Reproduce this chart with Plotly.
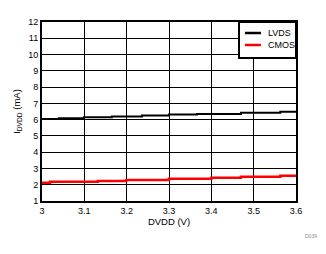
import plotly.graph_objects as go

# LVDS supply current (step readings), x = DVDD (V), y = I_DVDD (mA)
lvds_x = [3.0, 3.040, 3.099, 3.165, 3.236, 3.300, 3.366, 3.470, 3.563, 3.6]
lvds_y = [6.04, 6.08, 6.14, 6.20, 6.26, 6.31, 6.35, 6.43, 6.49, 6.49]

# CMOS supply current
cmos_x = [3.0, 3.019, 3.132, 3.199, 3.300, 3.400, 3.470, 3.563, 3.6]
cmos_y = [2.12, 2.18, 2.23, 2.29, 2.37, 2.43, 2.49, 2.55, 2.55]

series_names = ["LVDS", "CMOS"]
series_colors = ["black", "#ff0000"]

x_ticks = [3, 3.1, 3.2, 3.3, 3.4, 3.5, 3.6]
x_tick_labels = ["3", "3.1", "3.2", "3.3", "3.4", "3.5", "3.6"]
y_ticks = list(range(1, 13))

FONT = "Liberation Sans, Arial, sans-serif"

fig = go.Figure()
for xs, ys, name, color, w in [(lvds_x, lvds_y, series_names[0], series_colors[0], 2),
                                (cmos_x, cmos_y, series_names[1], series_colors[1], 2.5)]:
    fig.add_trace(go.Scatter(x=xs, y=ys, mode="lines", name=name,
                             line=dict(color=color, width=w, shape="hv")))

# compact boxed legend in the top-right corner (paper coordinates)
shapes = [dict(type="rect", xref="paper", yref="paper", x0=0.7756, x1=1.0, y0=0.799, y1=1.0,
               line=dict(color="black", width=2), fillcolor="white", layer="above")]
annotations = []
for i, (name, color) in enumerate(zip(series_names, series_colors)):
    yy = 0.9385 - i * 0.067
    shapes.append(dict(type="line", xref="paper", yref="paper", x0=0.799, x1=0.862, y0=yy, y1=yy,
                       line=dict(color=color, width=2.5), layer="above"))
    annotations.append(dict(text=name, xref="paper", yref="paper", x=0.88, y=yy,
                            xanchor="left", yanchor="middle", showarrow=False,
                            font=dict(size=9, family=FONT, color="black")))
annotations.append(dict(text="D039", xref="paper", yref="paper", x=1.09, y=-0.17,
                        showarrow=False, font=dict(size=5, color="#888888"),
                        xanchor="right", yanchor="top"))

fig.update_layout(
    width=326, height=254,
    margin=dict(l=42, r=30, t=22, b=53),
    paper_bgcolor="white", plot_bgcolor="white",
    font=dict(family=FONT, size=9, color="black"),
    showlegend=False,
    xaxis=dict(range=[3, 3.6], tickvals=x_ticks, ticktext=x_tick_labels,
               showgrid=True, gridcolor="black", gridwidth=1,
               showline=True, linecolor="black", linewidth=2, mirror=True,
               ticks="", zeroline=False,
               title=dict(text="DVDD (V)", font=dict(size=9.5), standoff=2)),
    yaxis=dict(range=[1, 12], tickvals=y_ticks,
               showgrid=True, gridcolor="black", gridwidth=1,
               showline=True, linecolor="black", linewidth=2, mirror=True,
               ticks="", zeroline=False,
               title=dict(text="I<sub>DVDD</sub> (mA)", font=dict(size=9.5), standoff=6)),
    shapes=shapes,
    annotations=annotations,
)

fig.write_html("out.html")
